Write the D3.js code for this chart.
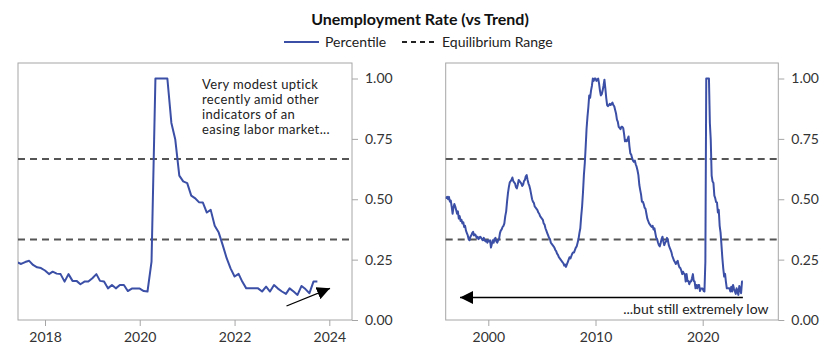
<!DOCTYPE html>
<html>
<head>
<meta charset="utf-8">
<script src="https://cdn.jsdelivr.net/npm/d3@7"></script>
<style>
  body { margin: 0; background: #fff; }
  svg { font-family: Lato, "Open Sans", sans-serif; }
</style>
</head>
<body>
<svg id="chart" width="840" height="357"></svg>
<script>
// monthly percentile of unemployment rate vs trend, Jan 1996 .. Oct 2023
const firstMonth = new Date(1996, 0, 1);
const percentile = [
  0.51, 0.505, 0.51, 0.50, 0.51, 0.49, 0.495, 0.47, 0.44, 0.465, 0.48, 0.47,      // 1996
  0.455, 0.44, 0.45, 0.42, 0.43, 0.41, 0.415, 0.40, 0.405, 0.385, 0.39, 0.37,     // 1997
  0.36, 0.35, 0.335, 0.33, 0.345, 0.35, 0.36, 0.365, 0.35, 0.355, 0.35, 0.34,     // 1998
  0.345, 0.335, 0.34, 0.345, 0.34, 0.335, 0.33, 0.34, 0.33, 0.325, 0.33, 0.32,    // 1999
  0.33, 0.325, 0.33, 0.30, 0.315, 0.33, 0.32, 0.335, 0.34, 0.325, 0.32, 0.33,     // 2000
  0.335, 0.36, 0.37, 0.375, 0.385, 0.39, 0.40, 0.43, 0.45, 0.49, 0.525, 0.55,     // 2001
  0.57, 0.575, 0.58, 0.59, 0.575, 0.57, 0.565, 0.55, 0.545, 0.56, 0.58, 0.575,    // 2002
  0.57, 0.565, 0.555, 0.56, 0.575, 0.58, 0.595, 0.60, 0.58, 0.565, 0.555, 0.54,   // 2003
  0.52, 0.50, 0.49, 0.485, 0.47, 0.465, 0.46, 0.455, 0.445, 0.44, 0.43, 0.425,    // 2004
  0.42, 0.415, 0.40, 0.395, 0.38, 0.37, 0.36, 0.35, 0.34, 0.335, 0.32, 0.315,     // 2005
  0.31, 0.305, 0.30, 0.29, 0.285, 0.275, 0.27, 0.26, 0.255, 0.25, 0.245, 0.24,    // 2006
  0.235, 0.225, 0.23, 0.22, 0.23, 0.24, 0.25, 0.26, 0.255, 0.265, 0.275, 0.28,    // 2007
  0.28, 0.29, 0.30, 0.305, 0.32, 0.335, 0.36, 0.38, 0.43, 0.47, 0.53, 0.60,       // 2008
  0.65, 0.72, 0.79, 0.84, 0.88, 0.93, 0.92, 0.95, 0.97, 1.0, 0.99, 1.0,           // 2009
  1.0, 0.99, 0.995, 1.0, 0.98, 0.95, 0.93, 0.935, 0.95, 0.97, 0.995, 0.96,        // 2010
  0.92, 0.89, 0.885, 0.89, 0.895, 0.89, 0.895, 0.90, 0.89, 0.885, 0.87, 0.855,   // 2011
  0.83, 0.82, 0.80, 0.795, 0.79, 0.80, 0.80, 0.795, 0.77, 0.74, 0.745, 0.74,      // 2012
  0.75, 0.76, 0.72, 0.69, 0.685, 0.67, 0.66, 0.655, 0.66, 0.645, 0.635, 0.62,     // 2013
  0.60, 0.56, 0.54, 0.52, 0.49, 0.49, 0.48, 0.465, 0.46, 0.44, 0.42, 0.41,        // 2014
  0.40, 0.395, 0.39, 0.385, 0.39, 0.375, 0.38, 0.36, 0.34, 0.335, 0.32, 0.31,     // 2015
  0.305, 0.32, 0.335, 0.345, 0.325, 0.31, 0.32, 0.325, 0.34, 0.33, 0.31, 0.30,    // 2016
  0.29, 0.28, 0.265, 0.255, 0.245, 0.239, 0.232, 0.24, 0.245, 0.228, 0.218, 0.215, // 2017
  0.205, 0.19, 0.20, 0.192, 0.19, 0.159, 0.19, 0.162, 0.162, 0.148, 0.159, 0.159, // 2018
  0.173, 0.19, 0.162, 0.159, 0.131, 0.145, 0.131, 0.145, 0.145, 0.12, 0.13, 0.13, // 2019
  0.13, 0.12, 0.118, 0.242, 1.0, 1.0, 1.0, 1.0, 0.816, 0.747, 0.598, 0.574,       // 2020
  0.567, 0.515, 0.505, 0.488, 0.487, 0.445, 0.456, 0.39, 0.362, 0.311, 0.256, 0.214, // 2021
  0.18, 0.191, 0.159, 0.131, 0.131, 0.131, 0.131, 0.118, 0.138, 0.118, 0.145, 0.13, // 2022
  0.118, 0.108, 0.131, 0.118, 0.104, 0.141, 0.128, 0.111, 0.159, 0.159            // 2023
];
const zoomFrom = new Date(2017, 5, 1);
const yTicks = [0, 0.25, 0.5, 0.75, 1];
const equilibriumRange = [1 / 3, 2 / 3];
const leftYears = [2018, 2020, 2022, 2024];
const rightYears = [2000, 2010, 2020];
const leftNote = ["Very modest uptick", "recently amid other", "indicators of an", "easing labor market..."];
const rightNote = "...but still extremely low";

const blue = "#3b4fa6";
const series = percentile.map((v, i) => ({ date: d3.timeMonth.offset(firstMonth, i), value: v }));

const svg = d3.select("#chart");

// arrowhead marker
svg.append("defs").append("marker")
  .attr("id", "head")
  .attr("viewBox", "0 0 10 10")
  .attr("refX", 10).attr("refY", 5)
  .attr("markerWidth", 13).attr("markerHeight", 13)
  .attr("markerUnits", "userSpaceOnUse")
  .attr("orient", "auto")
  .append("path").attr("d", "M0,0L10,5L0,10Z").attr("fill", "#000");

// title + legend
svg.append("text").attr("x", 420).attr("y", 25).attr("text-anchor", "middle")
  .attr("font-size", 16).attr("font-weight", 700).attr("fill", "#111")
  .text("Unemployment Rate (vs Trend)");

const legend = svg.append("g").attr("font-size", 14).attr("fill", "#222");
legend.append("line").attr("x1", 284).attr("x2", 319).attr("y1", 42).attr("y2", 42)
  .attr("stroke", blue).attr("stroke-width", 2);
legend.append("text").attr("x", 325).attr("y", 46.5).text("Percentile");
legend.append("line").attr("x1", 402).attr("x2", 437).attr("y1", 42).attr("y2", 42)
  .attr("stroke", "#222").attr("stroke-width", 2).attr("stroke-dasharray", "5,4");
legend.append("text").attr("x", 442).attr("y", 46.5).text("Equilibrium Range");

const y = d3.scaleLinear().domain([0, 1]).range([320, 78.5]);
const frameTop = 63;

function panel(id, left, right, x, years, data) {
  const g = svg.append("g");
  const bottom = y(0);

  g.append("clipPath").attr("id", id)
    .append("rect").attr("x", left).attr("y", frameTop)
    .attr("width", right - left).attr("height", bottom - frameTop);

  // frame
  g.append("rect").attr("x", left).attr("y", frameTop)
    .attr("width", right - left).attr("height", bottom - frameTop)
    .attr("fill", "none").attr("stroke", "#a6a6a6").attr("stroke-width", 1);

  // equilibrium range
  g.selectAll(".eq").data(equilibriumRange).enter().append("line")
    .attr("x1", left).attr("x2", right)
    .attr("y1", d => y(d)).attr("y2", d => y(d))
    .attr("stroke", "#555").attr("stroke-width", 2).attr("stroke-dasharray", "7,5");

  // percentile line
  const line = d3.line().x(d => x(d.date)).y(d => y(d.value));
  g.append("path").datum(data)
    .attr("clip-path", "url(#" + id + ")")
    .attr("fill", "none").attr("stroke", blue).attr("stroke-width", 2)
    .attr("stroke-linejoin", "round")
    .attr("d", line);

  // axes
  const yAxis = g.append("g").attr("transform", "translate(" + right + ",0)")
    .call(d3.axisRight(y).tickValues(yTicks).tickFormat(d3.format(".2f")).tickSize(6).tickPadding(7));
  const xAxis = g.append("g").attr("transform", "translate(0," + bottom + ")")
    .call(d3.axisBottom(x).tickValues(years.map(yr => new Date(yr, 0, 1)))
      .tickFormat(d3.timeFormat("%Y")).tickSize(6).tickPadding(6));
  [yAxis, xAxis].forEach(a => {
    a.select(".domain").remove();
    a.selectAll("line").attr("stroke", "#a6a6a6");
    a.selectAll("text").attr("font-size", 14).attr("fill", "#333")
      .attr("font-family", "Lato, 'Open Sans', sans-serif");
  });
  return g;
}

// left: recent years
const xLeft = d3.scaleTime().domain([new Date(2018, 0, 1), new Date(2024, 0, 1)]).range([45, 329.3]);
const gl = panel("clipL", 18, 352, xLeft, leftYears, series.filter(d => d.date >= zoomFrom));

gl.selectAll(".note").data(leftNote).enter().append("text")
  .attr("font-size", 13).attr("letter-spacing", 0.35).attr("fill", "#222")
  .attr("x", 202).attr("y", (d, i) => 88.5 + i * 15).text(d => d);

gl.append("line")
  .attr("x1", 286.5).attr("y1", 306).attr("x2", 330).attr("y2", 288.3)
  .attr("stroke", "#000").attr("stroke-width", 1.3).attr("marker-end", "url(#head)");

// right: full history
const xRight = d3.scaleTime().domain([new Date(2000, 0, 1), new Date(2020, 0, 1)]).range([488.3, 702.7]);
const gr = panel("clipR", 445.7, 778.3, xRight, rightYears, series);

gr.append("line")
  .attr("x1", xRight(series[series.length - 1].date)).attr("y1", 297.5)
  .attr("x2", 460).attr("y2", 297.5)
  .attr("stroke", "#000").attr("stroke-width", 1.5).attr("marker-end", "url(#head)");

gr.append("text").attr("x", 768.5).attr("y", 314).attr("text-anchor", "end")
  .attr("font-size", 14).attr("fill", "#222").text(rightNote);
</script>
</body>
</html>
